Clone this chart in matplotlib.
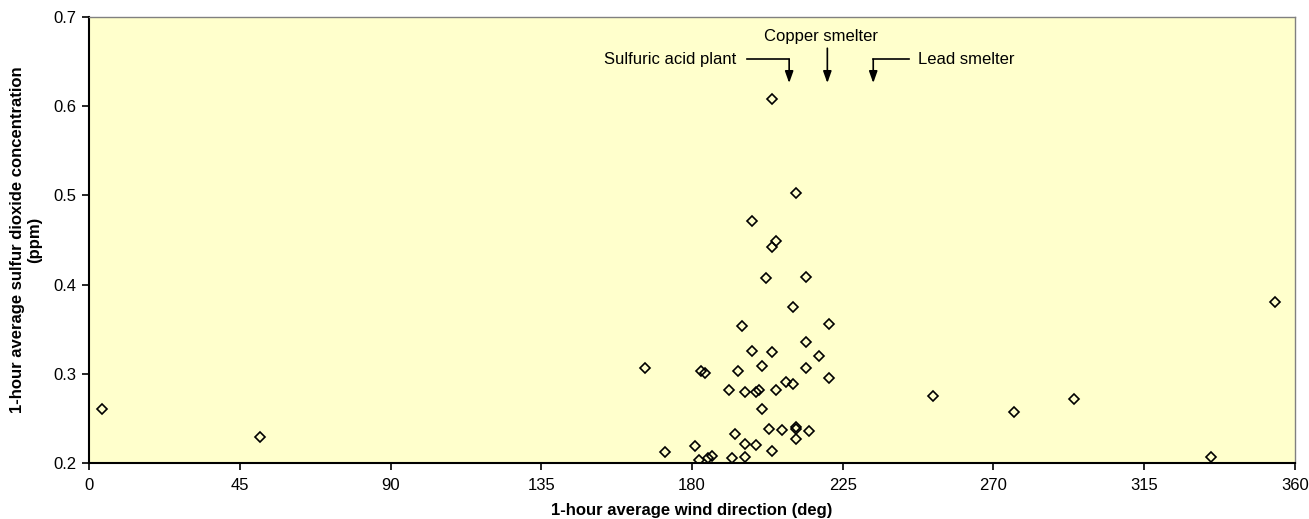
import matplotlib.pyplot as plt
from matplotlib.ticker import MultipleLocator, FormatStrFormatter

plt.rcParams['font.family'] = ['Liberation Sans', 'DejaVu Sans']

# hourly wind direction (deg) and SO2 concentration (ppm)
wind_dir = [4, 51, 166, 172, 181, 182, 182.7, 183.9, 184.8, 186,
            191, 192, 192.8, 193.8, 195, 195.9, 195.9, 195.8, 198, 198,
            199, 199, 200.1, 201, 201, 202, 203, 203.9, 203.9, 203.9,
            203.8, 205, 205.1, 207, 208, 210, 210, 211, 211, 211,
            211, 214, 214, 214, 214.8, 218, 221, 221, 252, 276,
            294, 335, 354]
so2_ppm = [0.260, 0.229, 0.307, 0.212, 0.219, 0.203, 0.3035, 0.3006, 0.205, 0.208,
           0.282, 0.205, 0.232, 0.303, 0.353, 0.280, 0.221, 0.207, 0.325, 0.471,
           0.220, 0.280, 0.282, 0.309, 0.260, 0.407, 0.238, 0.213, 0.324, 0.4425,
           0.608, 0.282, 0.4486, 0.237, 0.291, 0.289, 0.375, 0.503, 0.2407, 0.238,
           0.2266, 0.307, 0.336, 0.408, 0.236, 0.320, 0.295, 0.3555, 0.275, 0.257,
           0.272, 0.207, 0.381]

# source directions
sources = ['Sulfuric acid plant', 'Copper smelter', 'Lead smelter']
source_dir = [209, 220.4, 234.1]

fig = plt.figure(figsize=(13.09, 5.19), dpi=100)
ax = fig.add_axes([0.068, 0.108, 0.9213, 0.8592])
ax.set_facecolor('#FFFFCC')

ax.plot(wind_dir, so2_ppm, linestyle='none', marker='D', markersize=5.6,
        markerfacecolor='none', markeredgecolor='black', markeredgewidth=1.2)

ax.set_xlim(0, 360)
ax.set_ylim(0.2, 0.7)
ax.xaxis.set_major_locator(MultipleLocator(45))
ax.yaxis.set_major_locator(MultipleLocator(0.1))
ax.yaxis.set_major_formatter(FormatStrFormatter('%.1f'))
ax.tick_params(direction='out', length=5, width=1.2, labelsize=12, pad=4)
ax.tick_params(axis='x', pad=6)

for side in ['left', 'bottom']:
    ax.spines[side].set_linewidth(1.5)
    ax.spines[side].set_color('black')
for side in ['top', 'right']:
    ax.spines[side].set_linewidth(1.0)
    ax.spines[side].set_color('#808080')

ax.set_xlabel('1-hour average wind direction (deg)', fontsize=12, fontweight='bold', labelpad=7)
ax.set_ylabel('1-hour average sulfur dioxide concentration\n(ppm)', fontsize=12,
              fontweight='bold', labelpad=8)

# source arrows
arrow_kw = dict(arrowstyle='-|>,head_length=0.7,head_width=0.25', color='black', lw=1.2,
                shrinkA=0, shrinkB=0)
tip_y = 0.626
elbow_y = 0.6526

ax.plot([196.3, source_dir[0]], [elbow_y, elbow_y], color='black', lw=1.2)
ax.annotate('', xy=(source_dir[0], tip_y), xytext=(source_dir[0], elbow_y), arrowprops=arrow_kw)
ax.text(193.3, elbow_y, sources[0], ha='right', va='center', fontsize=12)

ax.annotate('', xy=(source_dir[1], tip_y), xytext=(source_dir[1], 0.665), arrowprops=arrow_kw)
ax.text(218.6, 0.678, sources[1], ha='center', va='center', fontsize=12)

ax.plot([source_dir[2], 244.8], [elbow_y, elbow_y], color='black', lw=1.2)
ax.annotate('', xy=(source_dir[2], tip_y), xytext=(source_dir[2], elbow_y), arrowprops=arrow_kw)
ax.text(247.4, elbow_y, sources[2], ha='left', va='center', fontsize=12)

fig.savefig('out.png', dpi=100)
